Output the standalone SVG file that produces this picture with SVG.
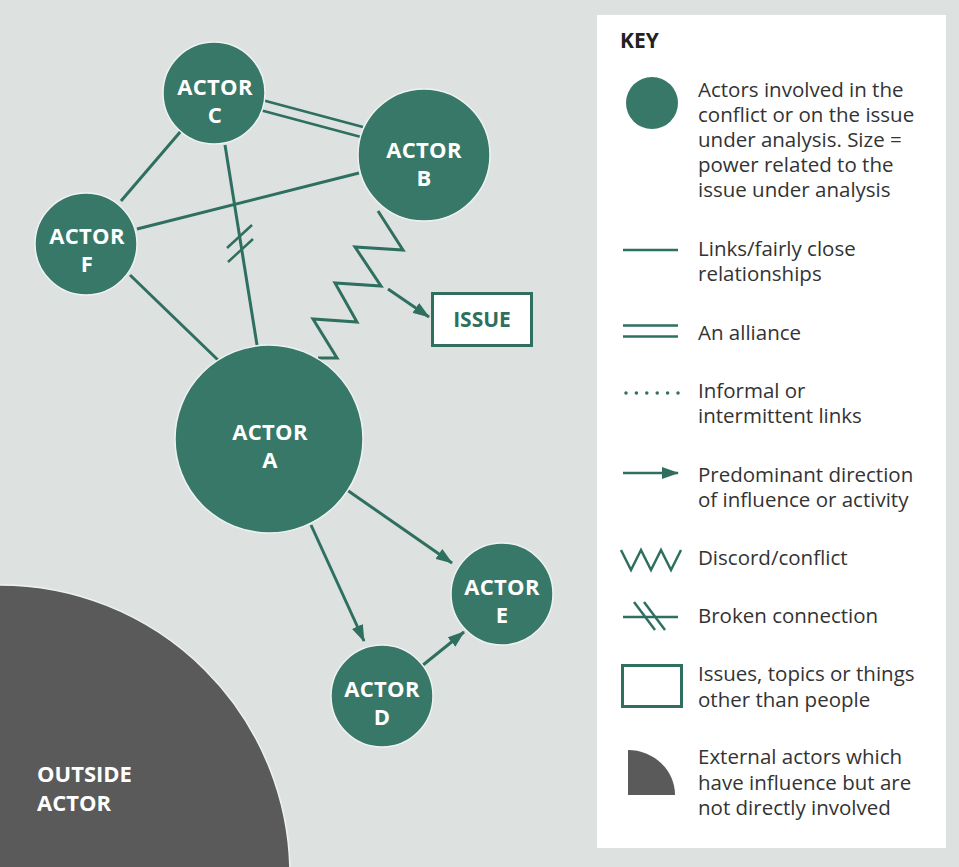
<svg xmlns="http://www.w3.org/2000/svg" width="959" height="867" viewBox="0 0 959 867">
  <defs>
    <style>
      .bg { fill: #dde2e0; }
      .actor { fill: #387868; stroke: #eef2f0; stroke-width: 1.5; }
      .outside { fill: #5a5a5a; stroke: #eef2f0; stroke-width: 1.5; }
      .link { stroke: #2f6f60; stroke-width: 3; fill: none; }
      .thin { stroke: #2f6f60; stroke-width: 2.5; fill: none; }
      .zig { stroke: #2f6f60; stroke-width: 3; fill: none; stroke-linejoin: miter; stroke-miterlimit: 10; }
      .lbl { font-family: "Open Sans", "Liberation Sans", sans-serif; font-weight: 700; font-size: 22px; letter-spacing: 0.3px; fill: #ffffff; text-anchor: middle; }
      .olbl { font-family: "Open Sans", "Liberation Sans", sans-serif; font-weight: 700; font-size: 22px; fill: #ffffff; }
      .issue { font-family: "Open Sans", "Liberation Sans", sans-serif; font-weight: 700; font-size: 21px; fill: #2f6f60; text-anchor: middle; }
      .key { font-family: "Open Sans", "Liberation Sans", sans-serif; font-size: 20.5px; fill: #333333; }
      .keyh { font-family: "Open Sans", "Liberation Sans", sans-serif; font-weight: 700; font-size: 21px; fill: #222222; }
    </style>
    <marker id="arrow" viewBox="0 0 17 12" markerWidth="17" markerHeight="12" refX="16" refY="6" orient="auto" markerUnits="userSpaceOnUse">
      <path d="M0,0 L17,6 L0,12 Z" fill="#2f6f60"/>
    </marker>
  </defs>

  <rect class="bg" x="0" y="0" width="959" height="867"/>

  <!-- Outside actor -->
  <g id="outside-actor">
    <circle class="outside" cx="0" cy="875" r="290"/>
    <text class="olbl" x="37" y="782">OUTSIDE</text>
    <text class="olbl" x="37" y="811">ACTOR</text>
  </g>

  <!-- Connectors -->
  <g id="connectors">
    <line class="link" x1="181" y1="131" x2="121" y2="201"/>
    <line class="link" x1="225" y1="145" x2="257" y2="345"/>
    <line class="link" x1="359" y1="173" x2="137" y2="229"/>
    <line class="link" x1="130" y1="275" x2="218" y2="360"/>
    <!-- alliance C=B -->
    <line class="thin" x1="262" y1="100" x2="363" y2="127"/>
    <line class="thin" x1="260" y1="110" x2="361" y2="137"/>
    <!-- broken marks -->
    <line class="thin" x1="227" y1="248" x2="252" y2="225"/>
    <line class="thin" x1="228" y1="262" x2="253" y2="239"/>
    <!-- discord B-A -->
    <polyline class="zig" points="378,211 403,250 355,247 381,286 335,283 357,322 313,319 337,358 318,358"/>
    <!-- arrows -->
    <line class="link" x1="388" y1="289" x2="429" y2="317" marker-end="url(#arrow)"/>
    <line class="link" x1="347" y1="490" x2="452" y2="563" marker-end="url(#arrow)"/>
    <line class="link" x1="311" y1="525" x2="364" y2="641" marker-end="url(#arrow)"/>
    <line class="link" x1="423" y1="665" x2="464" y2="632" marker-end="url(#arrow)"/>
  </g>

  <!-- Nodes -->
  <g id="actor-c">
    <circle class="actor" cx="214" cy="93" r="51"/>
    <text class="lbl" x="215" y="95">ACTOR</text>
    <text class="lbl" x="215" y="123">C</text>
  </g>
  <g id="actor-b">
    <circle class="actor" cx="424" cy="155" r="66"/>
    <text class="lbl" x="424" y="158">ACTOR</text>
    <text class="lbl" x="424" y="186">B</text>
  </g>
  <g id="actor-f">
    <circle class="actor" cx="86" cy="244" r="51"/>
    <text class="lbl" x="87" y="244">ACTOR</text>
    <text class="lbl" x="87" y="272">F</text>
  </g>
  <g id="actor-a">
    <circle class="actor" cx="269" cy="439" r="94"/>
    <text class="lbl" x="270" y="440">ACTOR</text>
    <text class="lbl" x="270" y="468">A</text>
  </g>
  <g id="actor-e">
    <circle class="actor" cx="502" cy="594" r="51"/>
    <text class="lbl" x="502" y="595">ACTOR</text>
    <text class="lbl" x="502" y="623">E</text>
  </g>
  <g id="actor-d">
    <circle class="actor" cx="382" cy="696" r="51"/>
    <text class="lbl" x="382" y="697">ACTOR</text>
    <text class="lbl" x="382" y="725">D</text>
  </g>
  <g id="issue">
    <rect x="432.5" y="293.5" width="99" height="52" fill="#ffffff" stroke="#2f6f60" stroke-width="3"/>
    <text class="issue" x="482" y="327">ISSUE</text>
  </g>

  <!-- Key -->
  <g id="key">
    <rect x="597" y="15" width="349" height="833" fill="#ffffff"/>
    <text class="keyh" x="620" y="48">KEY</text>

    <circle cx="652" cy="103" r="26" fill="#387868"/>
    <text class="key" x="698" y="97">Actors involved in the</text>
    <text class="key" x="698" y="122">conflict or on the issue</text>
    <text class="key" x="698" y="147">under analysis. Size =</text>
    <text class="key" x="698" y="172">power related to the</text>
    <text class="key" x="698" y="197">issue under analysis</text>

    <line class="thin" x1="623" y1="250" x2="678" y2="250"/>
    <text class="key" x="698" y="256">Links/fairly close</text>
    <text class="key" x="698" y="281">relationships</text>

    <line class="thin" x1="623" y1="325.5" x2="678" y2="325.5"/>
    <line class="thin" x1="623" y1="336.5" x2="678" y2="336.5"/>
    <text class="key" x="698" y="340">An alliance</text>

    <line x1="626" y1="393" x2="680" y2="393" stroke="#2f6f60" stroke-width="3.5" stroke-linecap="round" stroke-dasharray="0 10.4"/>
    <text class="key" x="698" y="398">Informal or</text>
    <text class="key" x="698" y="423">intermittent links</text>

    <line class="thin" x1="623" y1="473" x2="678" y2="473" marker-end="url(#arrow)"/>
    <text class="key" x="698" y="482">Predominant direction</text>
    <text class="key" x="698" y="507">of influence or activity</text>

    <polyline class="thin" points="621,550 631,570 641,550 651,570 661,550 671,570 681,550"/>
    <text class="key" x="698" y="565">Discord/conflict</text>

    <line class="thin" x1="623" y1="617" x2="678" y2="617"/>
    <line class="thin" x1="634" y1="602" x2="655" y2="630"/>
    <line class="thin" x1="644" y1="602" x2="665" y2="630"/>
    <text class="key" x="698" y="623">Broken connection</text>

    <rect x="622.5" y="665.5" width="59" height="41" fill="none" stroke="#2f6f60" stroke-width="3"/>
    <text class="key" x="698" y="681">Issues, topics or things</text>
    <text class="key" x="698" y="707">other than people</text>

    <path d="M628,795 V750 A47,45 0 0 1 675,795 Z" fill="#5a5a5a"/>
    <text class="key" x="698" y="764">External actors which</text>
    <text class="key" x="698" y="790">have influence but are</text>
    <text class="key" x="698" y="815">not directly involved</text>
  </g>
</svg>
